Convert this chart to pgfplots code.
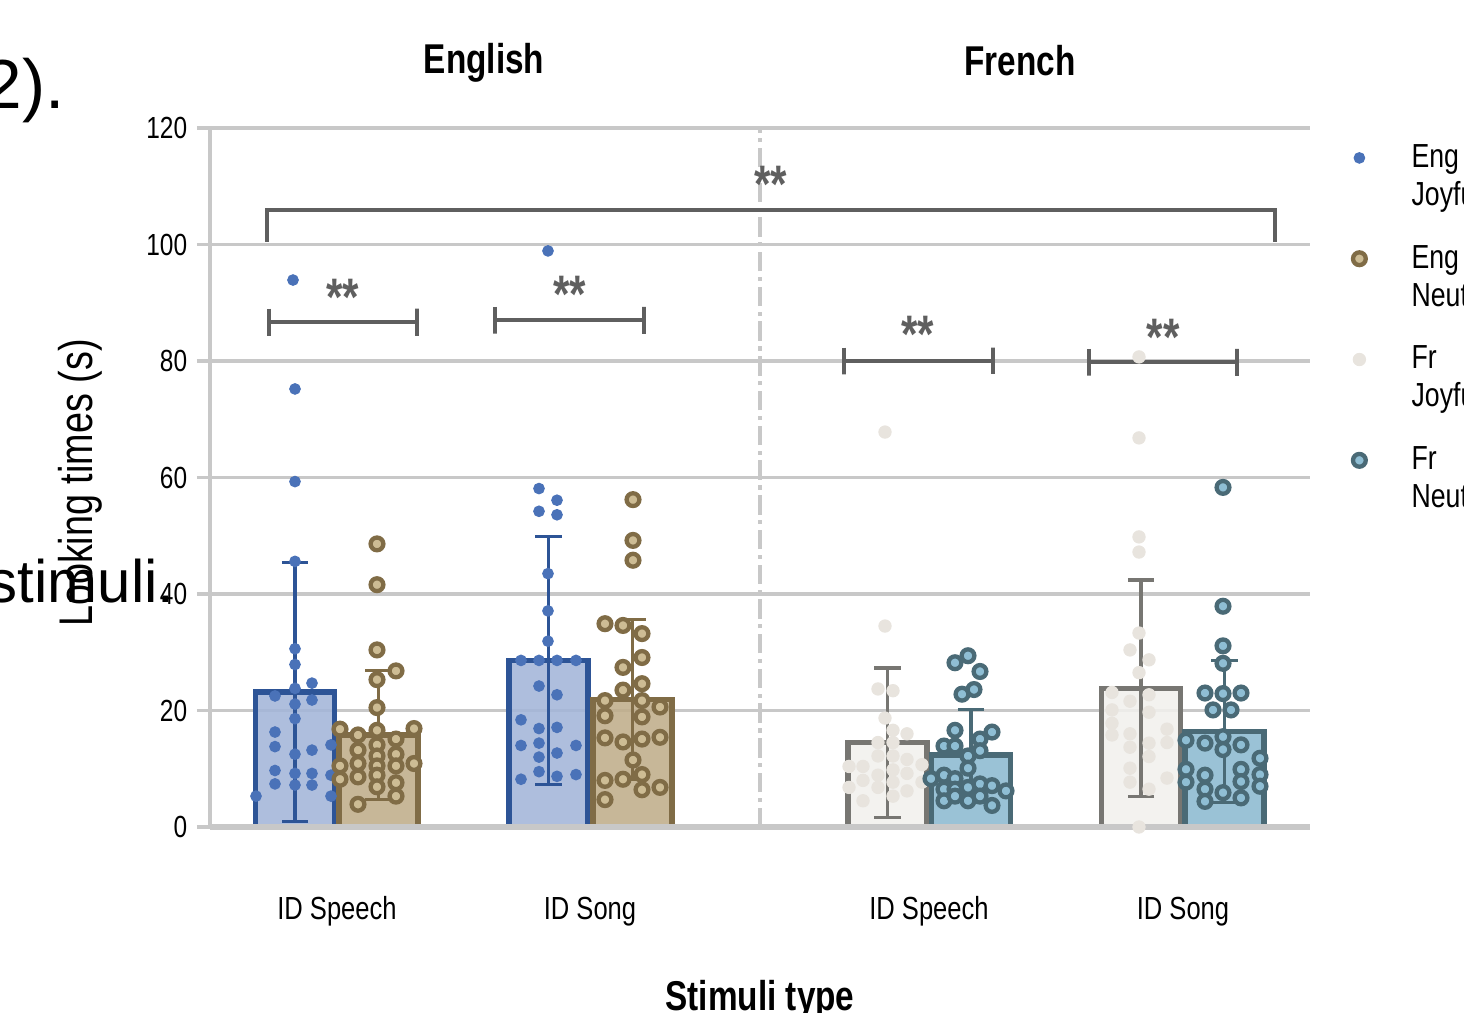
\documentclass[border=0pt]{standalone}
\usepackage{fontspec}
\setmainfont{Liberation Sans}[FakeStretch=0.8]
\newfontfamily\docfont{Liberation Sans}
\usepackage{pgfplots}
\pgfplotsset{compat=1.18}

\definecolor{engdot}{RGB}{74,114,184}
\definecolor{engbar}{RGB}{163,181,216}
\definecolor{engborder}{RGB}{45,84,150}
\definecolor{tanring}{RGB}{128,108,70}
\definecolor{taninner}{RGB}{205,188,148}
\definecolor{tanbar}{RGB}{191,173,138}
\definecolor{frdot}{RGB}{232,228,222}
\definecolor{frbar}{RGB}{241,240,237}
\definecolor{frborder}{RGB}{119,118,114}
\definecolor{tealring}{RGB}{74,106,118}
\definecolor{tealinner}{RGB}{143,190,212}
\definecolor{tealbar}{RGB}{140,186,208}
\definecolor{gridgrey}{RGB}{200,200,200}
\definecolor{brk}{RGB}{95,95,95}

\begin{document}
\begin{tikzpicture}
\begin{axis}[
  name=ax, at={(0pt,0pt)}, anchor=south west,
  scale only axis, width=396pt, height=251.64pt,
  xmin=210, xmax=1310, ymin=0, ymax=120,
  clip=false,
  axis lines=left,
  x axis line style={draw=none},
  y axis line style={draw=gridgrey, line width=1.1pt, -},
  xtick={337,590,929,1183},
  xticklabels={ID Speech,ID Song,ID Speech,ID Song},
  x tick style={draw=none},
  x tick label style={font=\fontsize{11.5}{13}\selectfont, anchor=base, yshift=-28.5pt},
  ytick={0,20,...,120},
  y tick style={draw=gridgrey, line width=1.1pt},
  tick align=outside,
  major tick length=4.7pt,
  y tick label style={font=\fontsize{11}{13}\selectfont},
  /pgf/number format/assume math mode=true,
  ymajorgrids,
  grid style={draw=gridgrey, line width=1.1pt},
  ylabel={Looking times (s)},
  ylabel style={font=\fontsize{17}{19}\selectfont, at={(axis description cs:-0.118,0.492)}, anchor=center, rotate=0},
  xlabel={\bfseries Stimuli type},
  xlabel style={font=\fontsize{15}{17}\selectfont, at={(axis description cs:0.5,-0.2475)}, anchor=center},
  legend style={draw=none, fill=none, at={(1.031,0.9987)}, anchor=north west,
    font=\fontsize{12}{13.7}\selectfont, row sep=21.2pt, column sep=14.5pt},
  legend cell align=left,
  legend image code/.code={\draw[mark repeat=2,mark phase=2,#1] plot coordinates {(0cm,-0.7pt)(0.3cm,-0.7pt)(0.6cm,-0.7pt)};},
]

% ---- bars with error bars ----
\addplot[ybar, bar shift=0pt, bar width=79, fill=engbar, fill opacity=0.88, draw=engborder, line width=2pt, forget plot,
  error bars/.cd, y dir=both, y explicit,
  error bar style={line width=1.1pt, draw=engborder},
  error mark options={rotate=90, mark size=4.7pt, line width=1.1pt, draw=engborder}]
  coordinates {(295,23.2) +- (0,22.2) (548.5,28.6) +- (0,21.3)};
\addplot[ybar, bar shift=0pt, bar width=79, fill=tanbar, fill opacity=0.88, draw=tanring, line width=2pt, forget plot,
  error bars/.cd, y dir=both, y explicit,
  error bar style={line width=1.1pt, draw=tanring},
  error mark options={rotate=90, mark size=4.7pt, line width=1.1pt, draw=tanring}]
  coordinates {(378.5,15.8) +- (0,11.0) (632.5,21.9) +- (0,13.8)};
\addplot[ybar, bar shift=0pt, bar width=79, fill=frbar, fill opacity=0.88, draw=frborder, line width=2pt, forget plot,
  error bars/.cd, y dir=both, y explicit,
  error bar style={line width=1.1pt, draw=frborder},
  error mark options={rotate=90, mark size=4.7pt, line width=1.1pt, draw=frborder}]
  coordinates {(887.5,14.5) +- (0,12.8) (1141,23.8) +- (0,18.6)};
\addplot[ybar, bar shift=0pt, bar width=79, fill=tealbar, fill opacity=0.88, draw=tealring, line width=2pt, forget plot,
  error bars/.cd, y dir=both, y explicit,
  error bar style={line width=1.1pt, draw=tealring},
  error mark options={rotate=90, mark size=4.7pt, line width=1.1pt, draw=tealring}]
  coordinates {(971,12.4) +- (0,7.8) (1224.5,16.4) +- (0,12.2)};

% ---- individual points ----
\addplot[only marks, mark=*, mark size=1.9pt, mark options={draw=engdot, fill=engdot}]
  coordinates {
  (293,93.9)(295,75.2)(295,59.3)(295,45.6)(295,30.6)(295,27.9)(312,24.7)(275,22.5)(295,23.8)(312,21.8)
  (295,21.1)(295,18.6)(275,16.3)(275,13.8)(312,13.2)(331,14.1)(295,12.5)(275,9.7)(295,9.2)(312,9.2)
  (331,8.9)(275,7.4)(295,7.2)(312,7.2)(256,5.3)(331,5.3)
  (548,98.9)(539,58.1)(557,56.1)(539,54.2)(557,53.6)(548,43.5)(548,37.1)(548,31.9)(521,28.6)(539,28.6)
  (557,28.6)(576,28.6)(539,24.2)(557,22.7)(521,18.4)(539,16.9)(557,17.1)(521,14.0)(539,14.4)(576,14.0)
  (539,12.0)(557,12.7)(539,9.5)(521,8.2)(557,8.7)(576,9.0)};
\addlegendentry{\vtop{\hbox{Eng\strut}\hbox{Joyful\strut}}}

\addplot[only marks, mark=*, mark size=2.3pt, mark options={draw=tanring, fill=taninner, line width=1.55pt}]
  coordinates {
  (377,48.6)(377,41.6)(377,30.4)(396,26.8)(377,25.3)(377,20.5)(340,16.8)(358,15.8)(377,16.6)(396,15.1)
  (414,16.9)(358,13.2)(377,14.1)(396,12.5)(340,10.5)(358,10.9)(377,12.2)(414,10.9)(396,10.5)(377,10.5)
  (340,8.2)(358,8.6)(377,8.9)(396,7.6)(377,6.9)(396,5.3)(358,3.9)
  (633,56.2)(633,49.2)(633,45.8)(605,34.9)(623,34.6)(642,33.2)(642,29.1)(623,27.4)(623,23.5)(642,24.6)
  (605,21.7)(642,21.7)(660,20.6)(605,19.1)(642,18.9)(605,15.3)(623,14.6)(642,15.1)(660,15.4)(633,11.5)
  (605,8.0)(623,8.2)(642,9.0)(642,6.4)(660,6.8)(605,4.7)};
\addlegendentry{\vtop{\hbox{Eng\strut}\hbox{Neutral\strut}}}

\addplot[only marks, mark=*, mark size=2.2pt, mark options={draw=frdot, fill=frdot}]
  coordinates {
  (885,67.8)(885,34.5)(878,23.7)(893,23.4)(885,18.7)(893,16.6)(907,16.0)(878,14.5)(893,14.5)(878,12.2)
  (893,12.2)(907,11.6)(849,10.4)(863,10.4)(893,9.8)(907,9.2)(922,10.7)(878,8.9)(863,8.0)(893,7.7)
  (849,6.8)(878,6.8)(922,7.7)(907,6.2)(893,5.3)(863,4.5)
  (1139,80.7)(1139,66.8)(1139,49.8)(1139,47.2)(1139,33.3)(1130,30.4)(1149,28.7)(1139,26.5)(1112,23.1)(1149,22.7)
  (1130,21.6)(1112,20.1)(1149,19.7)(1112,17.8)(1112,15.8)(1167,16.8)(1130,16.0)(1167,14.5)(1149,14.4)(1130,13.7)
  (1149,12.1)(1130,10.1)(1167,8.4)(1130,7.7)(1149,6.5)(1139,0)};
\addlegendentry{\vtop{\hbox{Fr\strut}\hbox{Joyful\strut}}}

\addplot[only marks, mark=*, mark size=2.3pt, mark options={draw=tealring, fill=tealinner, line width=1.55pt}]
  coordinates {
  (955,28.2)(968,29.4)(980,26.7)(962,22.8)(974,23.6)(955,16.6)(992,16.3)(944,13.9)(955,13.9)(980,15.1)
  (980,13.1)(968,12.2)(968,10.1)(931,8.3)(944,8.9)(955,8.3)(944,6.5)(955,6.5)(968,6.8)(980,7.4)
  (992,7.1)(1006,6.2)(944,4.5)(955,5.3)(968,4.5)(980,5.3)(992,3.7)
  (1223,58.3)(1223,37.9)(1223,31.1)(1223,28.1)(1205,23.0)(1223,22.9)(1241,23.0)(1213,20.1)(1231,20.1)(1186,14.9)
  (1205,14.4)(1223,15.5)(1241,14.1)(1223,13.3)(1260,11.8)(1186,9.9)(1205,8.9)(1241,9.9)(1260,9.0)(1186,7.7)
  (1205,6.5)(1241,7.8)(1260,7.0)(1223,5.9)(1205,4.4)(1241,5.0)};
\addlegendentry{\vtop{\hbox{Fr\strut}\hbox{Neutral\strut}}}

% ---- baseline and separator ----
\addplot[draw=gridgrey, line width=2.2pt, forget plot] coordinates {(210,0)(1310,0)};
\addplot[draw=gridgrey, line width=1.1pt, dash pattern=on 7pt off 2pt on 1.5pt off 2pt, forget plot]
  coordinates {(760,0)(760,120)};

% ---- significance brackets ----
\addplot[draw=brk, line width=1.45pt, forget plot] coordinates {(267,100.5)(267,105.9)(1275,105.9)(1275,100.5)};
\addplot[draw=brk, line width=1.45pt, forget plot] coordinates {(269,89)(269,84.3)(269,86.7)(417,86.7)(417,89)(417,84.3)};
\addplot[draw=brk, line width=1.45pt, forget plot] coordinates {(495,89.3)(495,84.7)(495,87.0)(644,87.0)(644,89.3)(644,84.7)};
\addplot[draw=brk, line width=1.45pt, forget plot] coordinates {(844,82.3)(844,77.7)(844,80.0)(993,80.0)(993,82.3)(993,77.7)};
\addplot[draw=brk, line width=1.45pt, forget plot] coordinates {(1089,82.1)(1089,77.5)(1089,79.8)(1237,79.8)(1237,82.1)(1237,77.5)};

\tikzset{star/.style={font=\bfseries\fontsize{19}{19}\selectfont, text=brk, anchor=center, inner sep=0pt, yshift=-2.5pt}}
\node[star] at (axis cs:343,92.2) {**};
\node[star] at (axis cs:570,92.7) {**};
\node[star] at (axis cs:918,85.7) {**};
\node[star] at (axis cs:1163,85.3) {**};
\node[star] at (axis cs:771,111.6) {**};

% ---- panel titles ----
\node[font=\bfseries\fontsize{15}{17}\selectfont, anchor=center] at (axis cs:484,131.2) {English};
\node[font=\bfseries\fontsize{15}{17}\selectfont, anchor=center] at (axis cs:1020,131.5) {French};

% ---- fragments of surrounding page text ----
\node[font=\docfont\fontsize{25}{25}\selectfont, anchor=base east, inner sep=0pt] at (axis cs:65,123.4) {2).};
\node[font=\docfont\fontsize{21.6}{22}\selectfont, anchor=base east, inner sep=0pt] at (axis cs:175,38.5) {stimuli.};
\end{axis}
\pgfresetboundingbox
\path[use as bounding box] (-75.6pt,-66.6pt) rectangle (451.44pt,297.72pt);
\end{tikzpicture}
\end{document}
